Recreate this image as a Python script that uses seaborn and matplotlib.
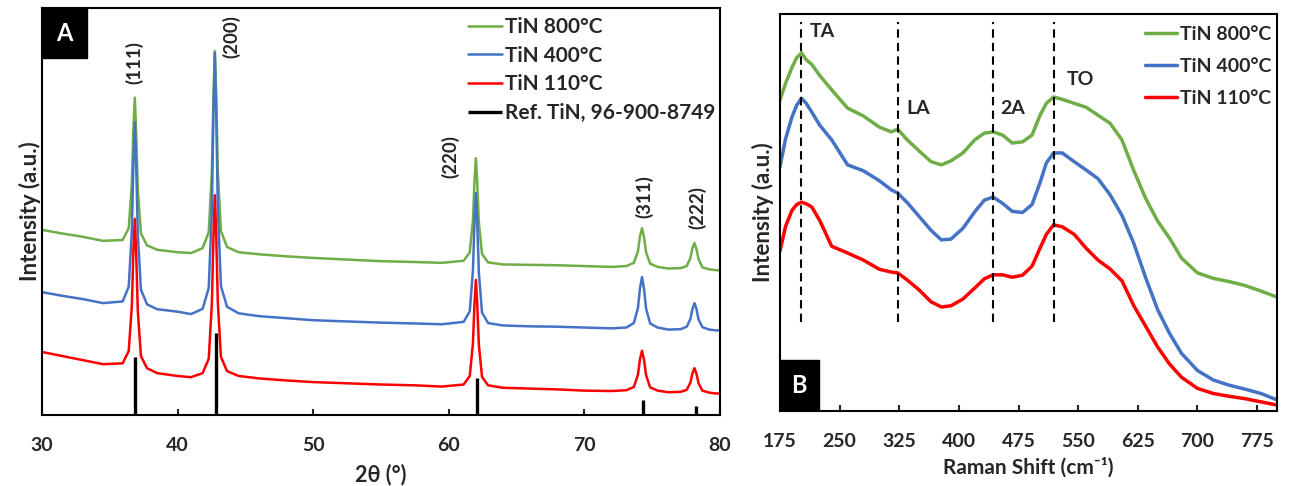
import matplotlib
matplotlib.use("Agg")
import matplotlib.pyplot as plt
import matplotlib.patches as patches
import numpy as np
import pandas as pd
import seaborn as sns

# ---------------- XRD (panel A) ----------------
two_theta = [30, 31.5, 33, 34.5,
             35.95, 36.4, 36.63, 36.75, 36.85, 36.95, 37.07, 37.3, 37.75,
             38.5, 40, 41,
             41.85, 42.3, 42.53, 42.65, 42.75, 42.85, 42.97, 43.2, 43.65,
             44.5, 46, 48, 50, 52.5, 55, 57.5, 59.5,
             61.1, 61.55, 61.78, 61.9, 62.0, 62.1, 62.22, 62.45, 62.9,
             64, 66, 68, 70, 72,
             73.1, 73.65, 73.95, 74.1, 74.25, 74.4, 74.55, 74.85, 75.4,
             76.2,
             77.1, 77.55, 77.82, 77.97, 78.12, 78.27, 78.42, 78.7, 79.2,
             79.7, 80]

xrd_800 = [45.5, 44.6, 43.8, 42.8,
           43.0, 45.9, 56.8, 70.6, 78.0, 69.3, 55.5, 44.6, 41.7,
           40.6, 40.0, 39.8,
           41.0, 44.9, 59.7, 78.5, 89.4, 78.8, 60.0, 45.2, 41.3,
           40.0, 39.5, 39.0, 38.6, 38.2, 37.8, 37.6, 37.4,
           37.9, 40.0, 47.8, 57.6, 63.1, 57.2, 47.4, 39.6, 37.5,
           37.0, 36.9, 36.8, 36.6, 36.4,
           36.6, 37.4, 40.2, 43.9, 45.9, 43.7, 40.0, 37.2, 36.4,
           36.0,
           36.1, 36.6, 38.6, 41.0, 42.3, 40.7, 38.3, 36.3, 35.8,
           35.6, 35.5]

xrd_400 = [30.2, 29.3, 28.5, 27.5,
           27.9, 31.5, 45.2, 62.4, 72.0, 61.7, 44.5, 30.8, 27.2,
           26.0, 25.4, 24.8,
           26.1, 31.2, 50.4, 74.7, 89.0, 75.2, 50.9, 31.7, 26.6,
           25.0, 24.3, 23.8, 23.3, 23.0, 22.7, 22.5, 22.3,
           22.9, 25.5, 35.3, 47.6, 54.5, 47.3, 35.0, 25.2, 22.6,
           22.0, 21.8, 21.7, 21.5, 21.3,
           21.5, 22.6, 26.3, 31.1, 33.9, 31.0, 26.2, 22.5, 21.5,
           21.0,
           21.1, 21.7, 23.6, 26.1, 27.5, 26.0, 23.5, 21.6, 21.0,
           20.8, 20.8]

xrd_110 = [15.5, 14.5, 13.5, 12.5,
           12.7, 15.7, 26.8, 40.9, 48.2, 39.7, 25.6, 14.5, 11.5,
           10.3, 9.6, 9.3,
           10.3, 13.8, 27.2, 44.0, 54.0, 44.5, 27.7, 14.3, 10.8,
           9.6, 9.0, 8.5, 8.1, 7.8, 7.5, 7.3, 7.0,
           7.5, 9.6, 17.5, 27.5, 33.2, 27.3, 17.3, 9.4, 7.3,
           6.7, 6.5, 6.3, 6.0, 5.9,
           6.1, 6.9, 9.9, 13.7, 15.8, 13.6, 9.8, 6.8, 6.0,
           5.6,
           5.7, 6.2, 8.0, 10.3, 11.5, 10.1, 7.8, 6.0, 5.5,
           5.3, 5.3]

ref_pos = [36.9, 42.8, 62.05, 74.3, 78.2]
ref_height = [14.3, 20.1, 9.2, 3.6, 2.3]

hkl_labels = ["(111)", "(200)", "(220)", "(311)", "(222)"]
hkl_x = [36.8, 44.0, 60.1, 74.4, 78.3]
hkl_y = [86.5, 92.9, 63.4, 53.6, 50.9]

# ---------------- Raman (panel B) ----------------
raman_shift = [175, 182, 190, 196, 202, 208, 215, 225, 240, 260, 280, 300,
               315, 323, 335, 350, 365, 378, 390, 405, 420, 432, 443, 455,
               467, 480, 492, 502, 510, 519, 530, 545, 560, 575, 590, 605,
               620, 635, 650, 665, 680, 700, 720, 740, 760, 780, 800]

raman_800 = [78.3, 82.5, 86.5, 89.0, 90.2, 88.5, 87.3, 84.5, 80.9, 76.3, 74.3, 71.5,
             70.3, 71.0, 68.3, 65.5, 62.8, 62.0, 63.0, 65.0, 68.3, 70.0, 70.3, 69.5,
             67.5, 67.8, 69.5, 74.5, 77.5, 79.1, 78.5, 77.5, 76.5, 74.5, 72.5, 68.3,
             60.5, 53.5, 47.8, 43.5, 38.5, 34.8, 33.4, 32.6, 31.6, 30.2, 28.7]

raman_400 = [61.5, 68.5, 74.0, 77.0, 78.8, 77.5, 75.3, 72.0, 68.3, 62.0, 60.5, 58.0,
             55.7, 54.9, 52.5, 49.0, 45.5, 43.1, 43.3, 46.0, 50.2, 53.1, 53.9, 52.3,
             50.3, 50.0, 52.0, 57.5, 62.5, 65.0, 65.0, 62.8, 60.7, 58.5, 54.5, 49.3,
             42.2, 33.5, 25.5, 19.5, 14.5, 10.2, 7.8, 6.5, 5.5, 4.4, 2.8]

raman_110 = [40.3, 46.5, 50.5, 52.0, 52.6, 52.2, 51.4, 48.0, 41.5, 39.8, 38.0, 35.7,
             35.0, 34.8, 33.0, 30.5, 27.5, 26.2, 26.5, 28.2, 31.0, 33.3, 34.3, 34.3,
             33.7, 34.2, 36.5, 41.0, 44.5, 46.9, 46.4, 44.5, 41.0, 38.0, 35.8, 32.8,
             26.5, 21.3, 16.1, 11.8, 8.5, 5.7, 4.4, 3.7, 3.1, 2.3, 1.5]

mode_pos = [202, 323, 443, 519]
mode_names = ["TA", "LA", "2A", "TO"]
mode_text_x = [212, 334, 452, 535]
mode_text_y = [95.5, 76.3, 76.3, 83.4]

series_names = ["TiN 800°C", "TiN 400°C", "TiN 110°C"]
colors = ["#70AD47", "#4472C4", "#FF0000"]

sns.set_theme(style="white")
plt.rcParams["font.family"] = ["Lato", "DejaVu Sans"]
plt.rcParams["font.weight"] = "bold"
plt.rcParams["axes.labelweight"] = "bold"
plt.rcParams["axes.edgecolor"] = "black"

fig = plt.figure(figsize=(13.1, 4.86), dpi=100)
ax1 = fig.add_axes([0.032, 0.146, 0.5176, 0.8375])
ax2 = fig.add_axes([0.5954, 0.1543, 0.3794, 0.8169])

# panel A
for name, vals, c in zip(series_names, [xrd_800, xrd_400, xrd_110], colors):
    sns.lineplot(x=two_theta, y=vals, color=c, lw=1.8, label=name, ax=ax1)
ax1.vlines(ref_pos, 0, ref_height, color="black", lw=2.4,
           label="Ref. TiN, 96-900-8749")
for t, x, y in zip(hkl_labels, hkl_x, hkl_y):
    ax1.text(x, y, t, rotation=90, ha="center", va="center",
             fontsize=13.5, fontweight="bold")
ax1.set_xlim(30, 80)
ax1.set_ylim(0, 100)
ax1.set_xticks([30, 40, 50, 60, 70, 80])
ax1.set_yticks([])
ax1.set_xlabel("2θ (°)", fontsize=15.5, fontweight="bold", labelpad=7)
ax1.set_ylabel("Intensity (a.u.)", fontsize=16, fontweight="bold", labelpad=1)
ax1.legend(loc="upper left", bbox_to_anchor=(0.628, 0.978), frameon=False,
           fontsize=15, handlelength=1.63, handletextpad=0.15, labelspacing=0.42,
           borderpad=0, borderaxespad=0)
ax1.add_patch(patches.Rectangle((0, 0.877), 0.0664, 0.123, transform=ax1.transAxes,
                                color="black", zorder=5))
ax1.text(0.0332, 0.9385, "A", transform=ax1.transAxes, color="white",
         fontsize=17, fontweight="bold", ha="center", va="center", zorder=6)

# panel B
for name, vals, c in zip(series_names, [raman_800, raman_400, raman_110], colors):
    sns.lineplot(x=raman_shift, y=vals, color=c, lw=2.5, label=name, ax=ax2)
ax2.vlines(mode_pos, 22.4, 98, color="black", lw=1.5, linestyles=(0, (4, 2.5)))
for t, x, y in zip(mode_names, mode_text_x, mode_text_y):
    ax2.text(x, y, t, ha="left", va="center", fontsize=14, fontweight="bold")
ax2.set_xlim(175, 800)
ax2.set_ylim(0, 100)
ax2.set_xticks([175, 250, 325, 400, 475, 550, 625, 700, 775])
ax2.set_yticks([])
ax2.set_xlabel("Raman Shift (cm⁻¹)", fontsize=15, fontweight="bold", labelpad=5)
ax2.set_ylabel("Intensity (a.u.)", fontsize=16, fontweight="bold", labelpad=4)
ax2.legend(loc="upper left", bbox_to_anchor=(0.734, 0.97), frameon=False,
           fontsize=14, handlelength=1.65, handletextpad=0.15, labelspacing=0.78,
           borderpad=0, borderaxespad=0)
ax2.add_patch(patches.Rectangle((0, 0), 0.0785, 0.128, transform=ax2.transAxes,
                                color="black", zorder=5))
ax2.text(0.039, 0.064, "B", transform=ax2.transAxes, color="white",
         fontsize=17, fontweight="bold", ha="center", va="center", zorder=6)

for ax in (ax1, ax2):
    for s in ax.spines.values():
        s.set_visible(True)
        s.set_color("black")
        s.set_linewidth(1.5)
    ax.tick_params(axis="x", direction="in", length=4, width=1.5, pad=16,
                   labelsize=14, bottom=True)
    for lbl in ax.get_xticklabels():
        lbl.set_fontweight("bold")

fig.savefig("out.png", dpi=100)
